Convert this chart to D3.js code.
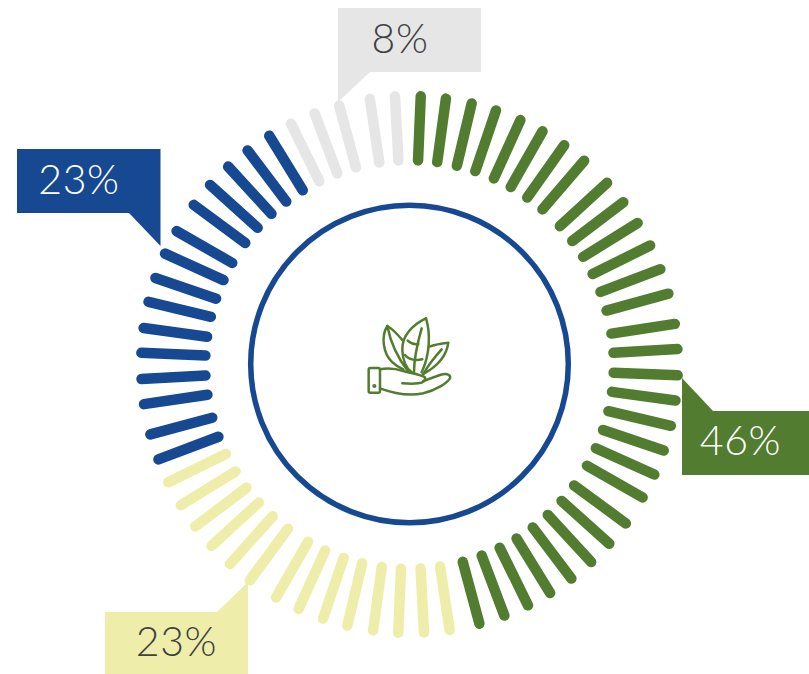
<!DOCTYPE html>
<html>
<head>
<meta charset="utf-8">
<script src="https://cdn.jsdelivr.net/npm/d3@7"></script>
<style>
html,body{margin:0;padding:0;background:#fff;overflow:hidden}
svg{display:block}
text{font-family:Lato,"Open Sans",sans-serif;font-weight:300;letter-spacing:0.6px}
</style>
</head>
<body>
<div id="chart"></div>
<script>
// Groups and their share labels
const groups = ["green", "yellow", "blue", "grey"];
const shareLabels = ["46%", "23%", "23%", "8%"];

// Bearing of every tick on the ring, in degrees clockwise from twelve o'clock
const greenBearings = [2.4, 7.8, 13.4, 18.8, 24.4, 29.7, 35.2, 40.6, 47.4, 52.8, 58.2, 63.7, 69.2, 74.7, 81.3,
  86.7, 92.3, 97.7, 103.2, 108.7, 114.2, 119.7, 126.3, 131.9, 137.4, 142.9, 148.4, 153.8, 159.3, 164.9];
const yellowBearings = [171.4, 176.9, 182.4, 187.8, 193.4, 198.8, 204.4, 209.8, 216.5, 222, 227.5, 232.9, 238.4, 244];
const blueBearings = [249.3, 254.9, 261.5, 266.9, 272.5, 277.8, 283.5, 288.8, 294.4, 299.8, 306.5, 312, 317.5, 322.9, 328.5];
const greyBearings = [333.8, 339.3, 344.8, 351.5, 356.9];

const colors = d3.scaleOrdinal(groups, ["#527c2f", "#eeeeaa", "#174892", "#e6e6e6"]);
const labelColors = d3.scaleOrdinal(groups, ["#ffffff", "#414042", "#ffffff", "#414042"]);

const width = 809, height = 674;
const cx = 409.5, cy = 364.5;

const svg = d3.select("#chart").append("svg")
  .attr("width", width).attr("height", height);

const bearingsByGroup = [greenBearings, yellowBearings, blueBearings, greyBearings];
const ticks = groups.flatMap((g, i) => bearingsByGroup[i].map(bearing => ({ group: g, bearing })));

const angle = d3.scaleLinear().domain([0, 360]).range([0, 2 * Math.PI]);
const radial = d3.scaleLinear().domain([0, 1]).range([204.3, 268.4]);
const polar = (deg, t) => d3.pointRadial(angle(deg), radial(t));

// Radial ticks with rounded ends
const ring = svg.append("g").attr("transform", `translate(${cx},${cy})`);
ring.selectAll("line").data(ticks).join("line")
  .attr("x1", d => polar(d.bearing, 0)[0]).attr("y1", d => polar(d.bearing, 0)[1])
  .attr("x2", d => polar(d.bearing, 1)[0]).attr("y2", d => polar(d.bearing, 1)[1])
  .attr("stroke", d => colors(d.group))
  .attr("stroke-width", 10.5)
  .attr("stroke-linecap", "round");

// Inner circle
svg.append("circle")
  .attr("cx", cx).attr("cy", 364).attr("r", 158.8)
  .attr("fill", "none").attr("stroke", "#174892").attr("stroke-width", 5.5);

// Callouts: a box with a pointer reaching toward the ring
const callouts = [
  { group: "green", i: 0, x: 682, y: 411, w: 127, h: 64, tail: [[682, 411], [682, 378], [713, 411]], tx: 740.5, ty: 455 },
  { group: "yellow", i: 1, x: 105, y: 612, w: 143, h: 62, tail: [[248, 582], [217, 612], [248, 612]], tx: 176.5, ty: 656 },
  { group: "blue", i: 2, x: 17, y: 149, w: 143.5, h: 64, tail: [[129, 213], [160.5, 246], [160.5, 213]], tx: 79, ty: 194 },
  { group: "grey", i: 3, x: 338, y: 8, w: 143, h: 64, tail: [[338, 72], [338, 102], [370, 72]], tx: 400, ty: 53 }
];
const box = svg.selectAll("g.callout").data(callouts).join("g").attr("class", "callout");
box.append("rect")
  .attr("x", d => d.x).attr("y", d => d.y).attr("width", d => d.w).attr("height", d => d.h)
  .attr("fill", d => colors(d.group));
box.append("path")
  .attr("d", d => d3.line()(d.tail) + "Z")
  .attr("fill", d => colors(d.group));
box.append("text")
  .attr("x", d => d.tx).attr("y", d => d.ty)
  .attr("text-anchor", "middle").attr("font-size", 41)
  .attr("fill", d => labelColors(d.group))
  .text(d => shareLabels[d.i]);

// Leaves-in-a-hand emblem at the centre
const emblem = svg.append("g")
  .attr("transform", "translate(340,300) scale(0.3333)")
  .attr("fill", "none").attr("stroke", "#527c2f").attr("stroke-width", 7.5)
  .attr("stroke-linecap", "round").attr("stroke-linejoin", "round");
[
  "M258,55C215,75 185,110 187,150C188,180 200,205 215,217",
  "M258,55C272,100 270,165 245,217",
  "M245,85C235,120 222,170 222,217",
  "M203,122C212,130 220,135 235,132",
  "M195,165C205,178 225,182 247,178",
  "M187,120C170,100 155,85 142,78C122,110 130,160 155,185C165,195 178,203 190,208",
  "M142,78C150,120 170,170 205,215",
  "M268,140C285,133 305,130 325,128C320,165 300,195 250,222",
  "M305,148C285,170 265,195 250,222",
  "M120,208C140,204 165,205 190,213C215,220 245,225 255,232C258,242 250,248 235,250C220,252 200,251 187,250",
  "M120,265C160,280 200,290 250,280C290,270 320,250 330,235C333,225 322,218 300,225L250,243",
  "M86,209Q86,204 91,204L115,204Q120,204 120,209L120,273Q120,278 115,278L91,278Q86,278 86,273Z"
].forEach(d => emblem.append("path").attr("d", d));
emblem.append("circle").attr("cx", 103).attr("cy", 258).attr("r", 2.5).attr("fill", "#527c2f");
</script>
</body>
</html>
